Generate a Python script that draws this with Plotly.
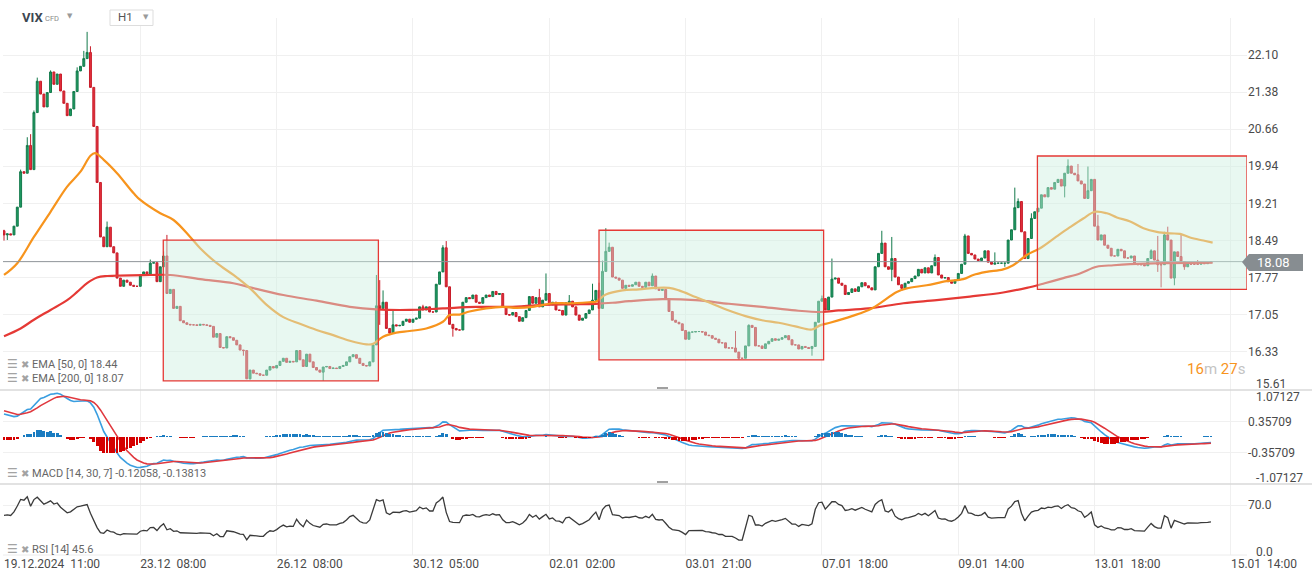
import plotly.graph_objects as go

# ---------------- data ----------------
tick_index = [0, 41, 82, 123, 164, 205, 246, 287, 328, 369]
tick_text = ["19.12.2024  11:00", "23.12  08:00", "26.12  08:00", "30.12  05:00",
             "02.01  02:00", "03.01  21:00", "07.01  18:00", "09.01  14:00",
             "13.01  18:00", "15.01  14:00"]

first_open = 18.68
closes = [
    18.60, 18.62, 18.60, 18.77, 19.14, 19.83, 19.80, 20.34, 19.87, 20.98,
    21.59, 21.34, 21.09, 21.37, 21.77, 21.53, 21.73, 21.40, 21.16, 20.92,
    21.05, 21.39, 21.79, 21.88, 22.03, 22.15, 21.47, 20.71, 19.62, 18.56,
    18.37, 18.75, 18.37, 18.25, 17.76, 17.60, 17.72, 17.68, 17.62, 17.60,
    17.60, 17.82, 17.88, 17.82, 18.05, 18.06, 17.69, 17.98, 18.19,
    17.46, 17.54, 17.17, 17.21, 16.93, 16.89, 16.86, 16.85, 16.85, 16.84,
    16.86, 16.85, 16.84, 16.82, 16.61, 16.68, 16.41, 16.40, 16.62, 16.60,
    16.55, 16.46, 16.36, 16.35, 15.80, 15.97, 15.91, 15.90, 15.87, 15.87,
    15.97, 16.04, 16.01, 16.06, 16.14, 16.20, 16.12, 16.14, 16.13, 16.35,
    16.17, 16.04, 16.28, 16.13, 16.02, 15.97, 15.93, 16.03, 16.04, 16.00,
    16.01, 16.00, 16.04, 16.06, 16.13, 16.23, 16.27, 16.20, 16.10, 16.06,
    16.05, 16.13, 16.46, 17.22,
    17.17, 17.29, 16.78, 16.69, 16.85, 16.83, 16.84, 16.92, 16.96, 16.90,
    16.96, 16.98, 17.20, 17.14, 17.20, 17.10, 17.10, 17.64, 17.88, 18.35,
    17.59, 16.86, 16.78, 16.75, 16.75, 17.29, 17.38, 17.36, 17.43, 17.29,
    17.27, 17.38, 17.43, 17.40, 17.50, 17.44, 17.46, 17.20, 17.05, 17.04,
    17.09, 17.01, 16.92, 16.99, 17.13, 17.40, 17.27, 17.38, 17.20, 17.33,
    17.46, 17.24, 17.29, 17.14, 17.13, 17.04, 17.28, 17.31, 17.20, 17.04,
    16.94, 16.98, 17.07, 17.14, 17.33, 17.52,
    17.17, 17.89, 18.28, 18.36, 17.78, 17.76, 17.72, 17.56, 17.62, 17.60,
    17.63, 17.68, 17.60, 17.58, 17.68, 17.61, 17.80, 17.55, 17.52, 17.54,
    17.35, 17.11, 16.94, 16.90, 16.87, 16.74, 16.57, 16.71, 16.71, 16.72,
    16.72, 16.71, 16.65, 16.64, 16.59, 16.57, 16.50, 16.50, 16.40, 16.40,
    16.40, 16.32, 16.20, 16.20, 16.44, 16.84, 16.80, 16.44, 16.44, 16.39,
    16.48, 16.53, 16.58, 16.55, 16.57, 16.60, 16.64, 16.56, 16.46, 16.46,
    16.38, 16.43, 16.41, 16.39, 16.43, 16.90, 17.31, 17.36, 17.14, 17.39,
    17.74, 17.76, 17.66, 17.62, 17.44, 17.48, 17.55, 17.50, 17.59, 17.67,
    17.61, 17.57, 17.53, 17.98, 18.24, 18.44, 17.98, 17.93, 18.14, 17.78,
    17.63, 17.56, 17.66, 17.69, 17.75, 17.80, 17.93, 17.86, 17.96, 17.86,
    18.00, 18.16, 17.82, 17.76, 17.77, 17.69, 17.66, 17.72, 17.85, 18.03,
    18.58, 18.24, 18.21, 18.13, 18.10, 18.15, 18.29, 18.07, 18.03, 18.05,
    18.05, 18.05, 18.05, 18.50, 18.70, 19.13, 19.25, 18.66, 18.14, 18.53,
    18.92, 19.05,
    19.12, 19.38, 19.34, 19.52, 19.49, 19.62, 19.68, 19.55, 19.80, 19.94,
    19.80, 19.77, 19.65, 19.59, 19.31, 19.46, 19.68, 18.77, 18.50, 18.60,
    18.40, 18.34, 18.19, 18.19, 18.32, 18.29, 18.15, 18.15, 18.19, 18.04,
    18.02, 18.02, 18.00, 18.14, 18.29, 18.11, 18.02, 18.02, 18.60, 18.50,
    17.76, 18.27, 18.18, 18.08, 17.98, 18.05, 18.03, 18.03, 18.03, 18.05,
    18.04, 18.06, 18.08,
]

wick_highs = {0: 18.70, 5: 19.87, 7: 20.50, 8: 20.56, 9: 21.02, 10: 21.66, 14: 21.80,
              22: 21.86, 24: 22.18, 25: 22.55, 26: 22.27, 31: 18.86, 44: 18.12, 48: 18.28,
              49: 18.60, 112: 17.82, 113: 17.72, 114: 17.52, 117: 17.12, 126: 17.24,
              132: 18.40, 133: 18.48, 161: 17.55, 163: 17.85, 170: 17.43, 177: 17.65,
              179: 17.67, 180: 18.10, 181: 18.73, 182: 18.45, 195: 17.85, 220: 16.73,
              224: 16.86, 246: 17.42, 249: 18.14, 264: 18.68, 267: 18.56, 280: 18.22,
              289: 18.62, 298: 18.26, 304: 19.52, 305: 19.31, 309: 19.02, 320: 20.07,
              323: 19.98, 326: 19.93, 329: 18.99, 345: 18.32, 347: 18.58, 349: 18.66,
              350: 18.76, 354: 18.60, 359: 18.11}
wick_lows = {0: 18.49, 1: 18.50, 113: 16.85, 116: 16.65, 135: 16.62, 221: 16.18,
             243: 16.25, 267: 17.70, 270: 17.51, 301: 17.98, 319: 19.33, 347: 17.88,
             348: 17.58, 352: 17.62, 355: 17.92, 96: 15.76, 74: 15.79, 72: 16.25}

# moving-average lines read as points (bar index, value)
ema50_pts = [(0, 17.82), (4, 18.05), (9, 18.56), (14, 19.05), (19, 19.54), (23, 19.83),
             (26, 20.14), (27.4, 20.19), (30, 20.06), (34, 19.80), (39, 19.41), (41, 19.28),
             (47, 19.02), (51, 18.89), (56, 18.56), (59, 18.34), (64, 18.05), (69, 17.82),
             (74, 17.56), (79, 17.24), (84, 17.00), (89, 16.87), (94, 16.75), (99, 16.65),
             (104, 16.54), (109, 16.47), (111, 16.48), (114, 16.62), (118, 16.70), (122, 16.73),
             (127, 16.78), (132, 16.91), (134, 17.04), (137, 17.05), (140, 17.11), (145, 17.17),
             (150, 17.20), (154, 17.18), (159, 17.20), (165, 17.27), (170, 17.27), (176, 17.29),
             (178, 17.30), (181, 17.44), (186, 17.52), (191, 17.54), (196, 17.57), (200, 17.57),
             (203, 17.52), (208, 17.39), (213, 17.26), (218, 17.13), (223, 17.02), (228, 16.94),
             (233, 16.89), (238, 16.82), (243, 16.76), (245.4, 16.84), (248.4, 16.89), (255, 17.02),
             (261, 17.17), (268.5, 17.49), (271.5, 17.56), (277.5, 17.62), (283.5, 17.70),
             (288.5, 17.74), (291.5, 17.82), (295.5, 17.88), (300.5, 17.93), (303.5, 18.01),
             (307.6, 18.21), (311.6, 18.34), (316.6, 18.57), (320.6, 18.75), (324.6, 18.92),
             (328.1, 19.05), (331.7, 19.02), (334.7, 18.94), (338.7, 18.86), (342.7, 18.73),
             (346.7, 18.66), (350.7, 18.63), (353.7, 18.62), (356.7, 18.55), (360.7, 18.49),
             (363.5, 18.45)]
ema200_pts = [(0, 16.63), (5, 16.78), (9, 16.95), (14, 17.14), (19, 17.33), (22, 17.49),
              (25, 17.66), (28, 17.77), (31, 17.80), (44, 17.82), (50, 17.82), (59, 17.74),
              (69, 17.66), (74, 17.58), (84, 17.43), (94, 17.32), (104, 17.20), (112, 17.15),
              (122, 17.14), (132, 17.17), (142, 17.20), (152, 17.20), (162, 17.24), (172, 17.25),
              (178, 17.26), (183, 17.28), (188, 17.31), (198, 17.35), (208, 17.33), (218, 17.26),
              (228, 17.20), (238, 17.13), (246, 17.10), (251, 17.13), (260, 17.17), (270.5, 17.27),
              (280.5, 17.33), (290.5, 17.40), (300.5, 17.48), (307.6, 17.57), (313, 17.66),
              (318.6, 17.76), (323.6, 17.85), (328.6, 17.98), (333.7, 18.01), (338.7, 18.03),
              (348.7, 18.05), (363.5, 18.06)]

# indicator seeds (state before the first visible bar)
macd_fast, macd_slow, macd_sig = 14, 30, 7
seed_fast, seed_slow, seed_signal = 18.45, 17.90, 0.62
rsi_period = 14
seed_avg_gain, seed_avg_loss = 0.07, 0.05

# highlighted boxes
box_x0 = [47.9, 178.95, 310.8]
box_x1 = [112.6, 246.5, 373.83]
box_lo = [15.76, 16.17, 17.54]
box_hi = [18.50, 18.69, 20.135]

last_price = 18.08
price_ticks = [16.33, 17.05, 17.77, 18.49, 19.21, 19.94, 20.66, 21.38, 22.10]
macd_ticks = [-0.35709, 0.35709]
macd_lim = 1.07127

# ---------------- derived ----------------
n = len(closes)
idx = list(range(n))
opens = [first_open] + closes[:-1]
highs = [max(o, c, wick_highs.get(i, 0)) for i, (o, c) in enumerate(zip(opens, closes))]
lows = [min(o, c, wick_lows.get(i, 99)) for i, (o, c) in enumerate(zip(opens, closes))]


def ema(vals, period, seed):
    a = 2.0 / (period + 1)
    e, out = seed, []
    for v in vals:
        e += a * (v - e)
        out.append(e)
    return out


fast = ema(closes, macd_fast, seed_fast)
slow = ema(closes, macd_slow, seed_slow)
macd = [f - s for f, s in zip(fast, slow)]
signal = ema(macd, macd_sig, seed_signal)
hist = [m - s for m, s in zip(macd, signal)]

ag, al, prev = seed_avg_gain, seed_avg_loss, first_open
rsi = []
for c in closes:
    ch = c - prev
    ag = (ag * (rsi_period - 1) + max(ch, 0)) / rsi_period
    al = (al * (rsi_period - 1) + max(-ch, 0)) / rsi_period
    rsi.append(100 - 100 / (1 + ag / al))
    prev = c

# ---------------- geometry helpers (pixels -> paper) ----------------
W, H = 1315, 582
L_PX, R_PX, T_PX, B_PX = 3, 1247, 18, 555
def px(x):
    return (x - L_PX) / (R_PX - L_PX)
def py(y):
    return (B_PX - y) / (B_PX - T_PX)

dom_price = [py(390), 1]
dom_macd = [py(484), py(390)]
dom_rsi = [0, py(484)]

FONT = "Roboto, 'Noto Sans', Arial, sans-serif"
GRID = "#f0f0f0"

fig = go.Figure()
fig.add_trace(go.Candlestick(
    x=idx, open=opens, high=highs, low=lows, close=closes,
    increasing=dict(line=dict(color="#137a4b", width=1), fillcolor="#1f9c63"),
    decreasing=dict(line=dict(color="#c81d2a", width=1), fillcolor="#e3303c"),
    whiskerwidth=0, xaxis="x", yaxis="y", hoverinfo="skip", showlegend=False))
fig.add_trace(go.Scatter(x=[p[0] for p in ema200_pts], y=[p[1] for p in ema200_pts],
                         mode="lines", line=dict(color="#e53935", width=2.2, shape="spline"),
                         xaxis="x", yaxis="y", hoverinfo="skip", showlegend=False))
fig.add_trace(go.Scatter(x=[p[0] for p in ema50_pts], y=[p[1] for p in ema50_pts],
                         mode="lines", line=dict(color="#f7941d", width=2.2, shape="spline"),
                         xaxis="x", yaxis="y", hoverinfo="skip", showlegend=False))

fig.add_trace(go.Bar(x=idx, y=hist, marker=dict(color=["#1a7cc1" if h >= 0 else "#d50000" for h in hist],
                                              line=dict(width=0)),
                     width=0.85, xaxis="x2", yaxis="y4", hoverinfo="skip", showlegend=False))
fig.add_trace(go.Scatter(x=idx, y=macd, mode="lines", line=dict(color="#3a9ee0", width=1.6),
                         xaxis="x2", yaxis="y2", hoverinfo="skip", showlegend=False))
fig.add_trace(go.Scatter(x=idx, y=signal, mode="lines", line=dict(color="#e0383e", width=1.6),
                         xaxis="x2", yaxis="y2", hoverinfo="skip", showlegend=False))
fig.add_trace(go.Scatter(x=idx, y=rsi, mode="lines", line=dict(color="#3a3a3a", width=1.3),
                         xaxis="x3", yaxis="y3", hoverinfo="skip", showlegend=False))

xr = [-0.3, (R_PX - L_PX) / 3.325 - 0.3]
xcommon = dict(range=xr, tickvals=tick_index, showgrid=True, gridcolor=GRID, gridwidth=1,
               zeroline=False, showline=False, ticks="", fixedrange=True)
ycommon = dict(side="right", showgrid=True, gridcolor=GRID, zeroline=False, ticks="",
               tickfont=dict(family=FONT, size=12, color="#4a4a4a"), showline=False, fixedrange=True)

shapes = []
annotations = []

# price line
shapes.append(dict(type="line", xref="paper", yref="y", x0=0, x1=1, y0=last_price, y1=last_price,
                   line=dict(color="#8e9499", width=1), layer="above"))
# boxes
for a, b, lo, hi in zip(box_x0, box_x1, box_lo, box_hi):
    shapes.append(dict(type="rect", xref="x", yref="y", x0=a, x1=b, y0=lo, y1=hi,
                       fillcolor="rgba(204,239,224,0.45)", line=dict(color="#e53935", width=1.3),
                       layer="above"))
# price label tag
shapes.append(dict(type="path", xref="paper", yref="paper",
                   path=f"M {px(1242)} {py(262)} L {px(1249)} {py(254)} L {px(1303)} {py(254)} "
                        f"L {px(1303)} {py(271)} L {px(1249)} {py(271)} Z",
                   fillcolor="#878d91", line=dict(width=0), layer="above"))
annotations.append(dict(xref="paper", yref="paper", x=px(1255), y=py(262.5), xanchor="left", yanchor="middle",
                        text=f"{last_price:.2f}", showarrow=False,
                        font=dict(family=FONT, size=13, color="#ffffff")))
# pane separators
for yy in (390, 484):
    shapes.append(dict(type="line", xref="paper", yref="paper", x0=px(0), x1=px(1312), y0=py(yy), y1=py(yy),
                       line=dict(color="#d9d9d9", width=1.5)))
    shapes.append(dict(type="line", xref="paper", yref="paper", x0=px(657), x1=px(668),
                       y0=py(yy - 2), y1=py(yy - 2), line=dict(color="#a0a0a0", width=2)))
# bottom border
shapes.append(dict(type="line", xref="paper", yref="paper", x0=0, x1=1, y0=0, y1=0,
                   line=dict(color="#ececec", width=1)))

# clamped edge tick labels
edge_labels = [("15.61", 384), ("1.07127", 397), ("-1.07127", 478), ("0.0", 552)]
for t, yy in edge_labels:
    annotations.append(dict(xref="paper", yref="paper", x=px(1254), y=py(yy), xanchor="left", yanchor="middle",
                            text=t, showarrow=False, font=dict(family=FONT, size=12, color="#4a4a4a")))

# header
annotations += [
    dict(xref="paper", yref="paper", x=px(20), y=py(17), xanchor="left", yanchor="middle", showarrow=False,
         text="<b>VIX</b>", font=dict(family=FONT, size=13, color="#3d4752")),
    dict(xref="paper", yref="paper", x=px(43), y=py(18.5), xanchor="left", yanchor="middle", showarrow=False,
         text="CFD", font=dict(family=FONT, size=7.5, color="#8a8a8a")),
    dict(xref="paper", yref="paper", x=px(65), y=py(16), xanchor="left", yanchor="middle", showarrow=False,
         text="▼", font=dict(family="DejaVu Sans", size=7, color="#9a9a9a")),
    dict(xref="paper", yref="paper", x=px(116), y=py(17.5), xanchor="left", yanchor="middle", showarrow=False,
         text="H1", font=dict(family=FONT, size=11.5, color="#555555")),
    dict(xref="paper", yref="paper", x=px(141), y=py(17), xanchor="left", yanchor="middle", showarrow=False,
         text="▼", font=dict(family="DejaVu Sans", size=7, color="#9a9a9a")),
]
shapes.append(dict(type="rect", xref="paper", yref="paper", x0=px(110), x1=px(153), y0=py(25.5), y1=py(10),
                   fillcolor="#ffffff", line=dict(color="#dddddd", width=1), layer="above"))

# indicator legends
def legend_row(text, yy):
    annotations.append(dict(xref="paper", yref="paper", x=px(5), y=py(yy), xanchor="left", yanchor="middle",
                            showarrow=False, text="☰", font=dict(family="DejaVu Sans", size=12, color="#a3a3a3")))
    annotations.append(dict(xref="paper", yref="paper", x=px(19), y=py(yy), xanchor="left", yanchor="middle",
                            showarrow=False, text="✖", font=dict(family="DejaVu Sans", size=10, color="#a3a3a3")))
    annotations.append(dict(xref="paper", yref="paper", x=px(30), y=py(yy), xanchor="left", yanchor="middle",
                            showarrow=False, text=text, font=dict(family=FONT, size=11, color="#666666")))

legend_row("EMA [50, 0] 18.44", 364)
legend_row("EMA [200, 0] 18.07", 378)
legend_row("MACD [14, 30, 7] -0.12058, -0.13813", 473)
legend_row("RSI [14] 45.6", 549)

# countdown
annotations.append(dict(xref="paper", yref="paper", x=px(1247), y=py(369), xanchor="right", yanchor="middle",
                        showarrow=False,
                        text="<span style='color:#f7941d'>16</span><span style='color:#c3c3c3'>m</span> "
                             "<span style='color:#f7941d'>27</span><span style='color:#c3c3c3'>s</span>",
                        font=dict(family=FONT, size=15)))

fig.update_layout(
    width=W, height=H, autosize=False,
    margin=dict(l=L_PX, r=W - R_PX, t=T_PX, b=H - B_PX, pad=0),
    paper_bgcolor="#ffffff", plot_bgcolor="#ffffff",
    font=dict(family=FONT, size=12, color="#4a4a4a"),
    showlegend=False, hovermode=False, bargap=0, boxgap=0.18,
    xaxis=dict(xcommon, anchor="y", showticklabels=False, rangeslider=dict(visible=False)),
    xaxis2=dict(xcommon, anchor="y2", matches="x", showticklabels=False),
    xaxis3=dict(xcommon, anchor="y3", matches="x", showticklabels=True, ticktext=tick_text,
                ticklabelposition="outside right", tickfont=dict(family=FONT, size=12, color="#4a4a4a")),
    yaxis=dict(ycommon, domain=dom_price, range=[22.10 - (390 - 55) / 51.4, 22.10 + (55 - 18) / 51.4],
               tickvals=price_ticks, ticktext=[f"{v:.2f}" for v in price_ticks]),
    yaxis2=dict(ycommon, domain=dom_macd, range=[-macd_lim, macd_lim], tickvals=macd_ticks,
                ticktext=[f"{v:.5f}" for v in macd_ticks]),
    yaxis4=dict(domain=dom_macd, overlaying="y2", range=[-macd_lim, macd_lim], anchor="x2",
                showgrid=False, showticklabels=False, zeroline=False, fixedrange=True),
    yaxis3=dict(ycommon, domain=dom_rsi, range=[0, (555 - 484) / ((555 - 505) / 70)], tickvals=[70],
                ticktext=["70.0"]),
    shapes=shapes, annotations=annotations,
)

fig.write_html("out.html", config={"displayModeBar": False, "staticPlot": True},
               post_script="document.body.style.margin='0';document.body.style.overflow='hidden';")
